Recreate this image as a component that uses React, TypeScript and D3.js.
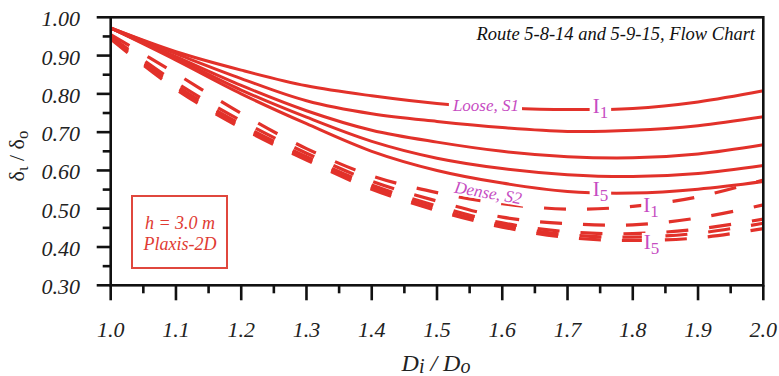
import React, { useEffect, useRef } from "react";
import * as d3 from "d3";

// ---------- data ----------
const D_VALUES = [1.0, 1.1, 1.2, 1.3, 1.4, 1.5, 1.6, 1.7, 1.8, 1.9, 2.0];

const LOOSE_I1 = [0.972, 0.91, 0.862, 0.821, 0.795, 0.775, 0.764, 0.759, 0.762, 0.779, 0.808];
const LOOSE_I2 = [0.972, 0.905, 0.84, 0.782, 0.748, 0.728, 0.712, 0.702, 0.705, 0.717, 0.74];
const LOOSE_I3 = [0.972, 0.897, 0.822, 0.756, 0.705, 0.674, 0.65, 0.636, 0.633, 0.643, 0.667];
const LOOSE_I4 = [0.972, 0.893, 0.81, 0.739, 0.676, 0.632, 0.605, 0.589, 0.584, 0.592, 0.613];
const LOOSE_I5 = [0.972, 0.888, 0.8, 0.722, 0.65, 0.6, 0.567, 0.545, 0.541, 0.551, 0.571];

const DENSE_I1 = [0.955, 0.853, 0.749, 0.657, 0.586, 0.542, 0.513, 0.499, 0.506, 0.531, 0.575];
const DENSE_I2 = [0.95, 0.83, 0.73, 0.645, 0.572, 0.52, 0.478, 0.461, 0.458, 0.476, 0.51];
const DENSE_I3 = [0.948, 0.822, 0.72, 0.636, 0.562, 0.507, 0.463, 0.44, 0.435, 0.447, 0.473];
const DENSE_I4 = [0.946, 0.817, 0.715, 0.631, 0.556, 0.5, 0.457, 0.432, 0.426, 0.436, 0.462];
const DENSE_I5 = [0.943, 0.812, 0.711, 0.627, 0.551, 0.495, 0.452, 0.425, 0.417, 0.424, 0.448];

const X_TICKS = [1.0, 1.1, 1.2, 1.3, 1.4, 1.5, 1.6, 1.7, 1.8, 1.9, 2.0];
const Y_TICKS = [0.3, 0.4, 0.5, 0.6, 0.7, 0.8, 0.9, 1.0];

const LOOSE_SERIES = [LOOSE_I1, LOOSE_I2, LOOSE_I3, LOOSE_I4, LOOSE_I5];
const DENSE_SERIES = [DENSE_I1, DENSE_I2, DENSE_I3, DENSE_I4, DENSE_I5];

const RED = "#e2312a";
const MAGENTA = "#c64cc2";
const SERIF = "'Liberation Serif', 'Times New Roman', serif";

export default function App() {
  const ref = useRef<SVGSVGElement>(null);

  useEffect(() => {
    const svg = d3.select(ref.current);
    svg.selectAll("*").remove();

    const x = d3.scaleLinear().domain([1, 2]).range([110.7, 763.3]);
    const y = d3.scaleLinear().domain([0.3, 1.0]).range([285.3, 17.3]);
    const [x0, x1] = x.range();
    const [yb, yt] = y.range();

    svg.append("rect").attr("width", 779).attr("height", 376).attr("fill", "#fff");

    svg.append("defs").append("clipPath").attr("id", "plotclip")
      .append("rect").attr("x", x0).attr("y", yt).attr("width", x1 - x0).attr("height", yb - yt);

    const line = d3.line<number>()
      .x((_, i) => x(D_VALUES[i]))
      .y((d) => y(d))
      .curve(d3.curveCatmullRom.alpha(0.5));

    const plot = svg.append("g").attr("clip-path", "url(#plotclip)");

    DENSE_SERIES.forEach((s) => {
      plot.append("path").attr("d", line(s)!).attr("fill", "none")
        .attr("stroke", RED).attr("stroke-width", 3.2)
        .attr("stroke-dasharray", "22,21");
    });
    LOOSE_SERIES.forEach((s) => {
      plot.append("path").attr("d", line(s)!).attr("fill", "none")
        .attr("stroke", RED).attr("stroke-width", 3);
    });

    // labels with white background
    const labels = svg.append("g");
    const addLabel = (
      build: (t: d3.Selection<SVGTextElement, unknown, null, undefined>) => void,
      tx: number, ty: number, anchor: string, rot: number, padX: number, padY: number
    ) => {
      const g = labels.append("g").attr("transform", `translate(${tx},${ty}) rotate(${rot})`);
      const bg = g.append("rect").attr("fill", "#fff");
      const t = g.append("text").attr("text-anchor", anchor).attr("font-family", SERIF).attr("fill", MAGENTA);
      build(t as any);
      const bb = (t.node() as SVGTextElement).getBBox();
      bg.attr("x", bb.x - padX).attr("y", bb.y + padY).attr("width", bb.width + 2 * padX).attr("height", bb.height - 2 * padY);
    };

    addLabel((t) => {
      t.attr("font-size", 17).attr("font-style", "italic").text("Loose, S1");
    }, x(1.575), y(0.755), "middle", 0, 3, 2);

    const iLabel = (sub: string) => (t: d3.Selection<SVGTextElement, unknown, null, undefined>) => {
      t.attr("font-size", 21);
      t.append("tspan").text("I");
      t.append("tspan").attr("font-size", 17).attr("dy", 5).text(sub);
    };
    addLabel(iLabel("1"), x(1.7385), y(0.75), "start", 0, 3, 3);
    addLabel(iLabel("5"), x(1.7385), y(0.532), "start", 0, 3, 3);
    addLabel(iLabel("1"), x(1.816), y(0.491), "start", 0, 2, 3);
    addLabel(iLabel("5"), x(1.817), y(0.395), "start", 0, 2, 3);

    addLabel((t) => {
      t.attr("font-size", 17).attr("font-style", "italic").text("Dense, S2");
    }, x(1.577), y(0.527), "middle", 10, 3, 2);

    // frame
    svg.append("rect").attr("x", x0).attr("y", yt).attr("width", x1 - x0).attr("height", yb - yt)
      .attr("fill", "none").attr("stroke", "#111").attr("stroke-width", 2.6);

    // ticks
    const ticks = svg.append("g").attr("stroke", "#111").attr("stroke-width", 2.6);
    Y_TICKS.forEach((v) => {
      ticks.append("line").attr("x1", x0 - 14).attr("x2", x0).attr("y1", y(v)).attr("y2", y(v));
      if (v < 1.0) {
        ticks.append("line").attr("x1", x0 - 8).attr("x2", x0).attr("y1", y(v + 0.05)).attr("y2", y(v + 0.05));
      }
    });
    X_TICKS.forEach((v) => {
      ticks.append("line").attr("x1", x(v)).attr("x2", x(v)).attr("y1", yb).attr("y2", yb + 15);
      if (v < 2.0) {
        ticks.append("line").attr("x1", x(v + 0.05)).attr("x2", x(v + 0.05)).attr("y1", yb).attr("y2", yb + 8);
      }
    });

    // tick labels
    const tl = svg.append("g").attr("font-family", SERIF).attr("font-style", "italic")
      .attr("font-size", 22).attr("fill", "#222");
    Y_TICKS.forEach((v) => {
      tl.append("text").attr("x", 80).attr("y", y(v) + 9).attr("text-anchor", "end").text(v.toFixed(2));
    });
    X_TICKS.forEach((v) => {
      tl.append("text").attr("x", x(v)).attr("y", 337).attr("text-anchor", "middle").text(v.toFixed(1));
    });

    // axis titles
    const xt = svg.append("text").attr("x", 436).attr("y", 371).attr("text-anchor", "middle")
      .attr("font-family", SERIF).attr("font-style", "italic").attr("font-size", 24).attr("fill", "#222");
    xt.append("tspan").text("D");
    xt.append("tspan").attr("font-size", 20).attr("dy", 2).text("i");
    xt.append("tspan").attr("dy", -2).text(" / D");
    xt.append("tspan").attr("font-size", 20).attr("dy", 2).text("o");

    const yt2 = svg.append("text").attr("transform", `translate(24,156) rotate(-90)`).attr("text-anchor", "middle")
      .attr("font-family", SERIF).attr("font-size", 22).attr("fill", "#222");
    yt2.append("tspan").text("δ");
    yt2.append("tspan").attr("font-size", 17).attr("dy", 4).text("ι");
    yt2.append("tspan").attr("dy", -4).text("  /  δ");
    yt2.append("tspan").attr("font-size", 17).attr("dy", 4).text("o");

    // route text
    svg.append("text").attr("x", 755).attr("y", 40).attr("text-anchor", "end")
      .attr("font-family", SERIF).attr("font-style", "italic").attr("font-size", 18.5).attr("fill", "#111")
      .text("Route 5-8-14 and 5-9-15, Flow Chart");

    // legend box
    svg.append("rect").attr("x", 132).attr("y", 196).attr("width", 95).attr("height", 72)
      .attr("fill", "#fff").attr("stroke", "#e0473d").attr("stroke-width", 2);
    const lg = svg.append("g").attr("font-family", SERIF).attr("font-style", "italic")
      .attr("font-size", 18).attr("fill", "#e03a32").attr("text-anchor", "middle");
    lg.append("text").attr("x", 180).attr("y", 229).text("h = 3.0 m");
    lg.append("text").attr("x", 180).attr("y", 250).text("Plaxis-2D");
  }, []);

  return (
    <svg
      ref={ref}
      width={779}
      height={376}
      style={{ position: "absolute", left: 0, top: 0, display: "block" }}
    />
  );
}
